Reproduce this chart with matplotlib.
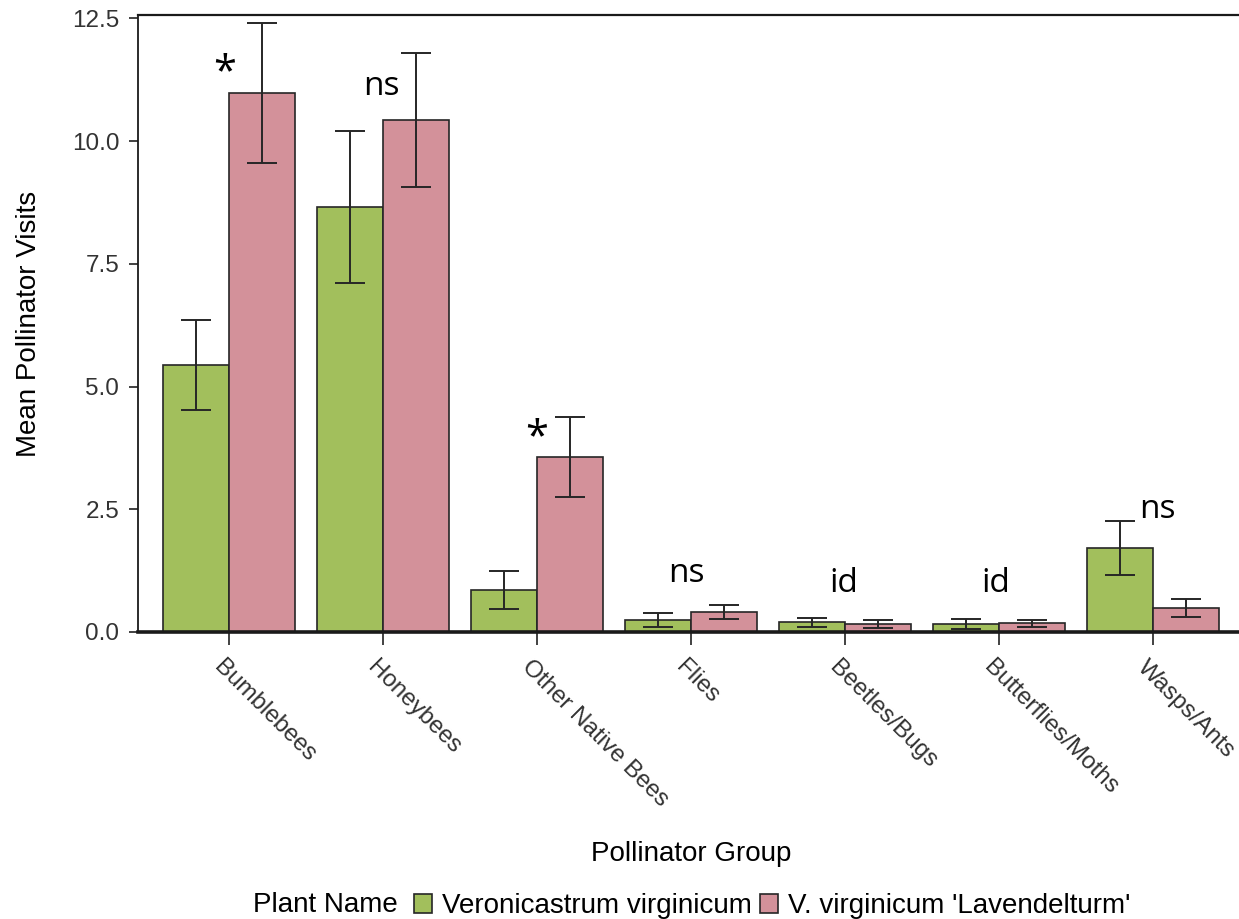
import numpy as np
import matplotlib.pyplot as plt
from matplotlib.patches import Patch
from matplotlib.transforms import ScaledTranslation

# Pollinator groups and mean visits (+/- SE) for the two plants
groups = ["Bumblebees", "Honeybees", "Other Native Bees", "Flies",
          "Beetles/Bugs", "Butterflies/Moths", "Wasps/Ants"]
native_mean = [5.44, 8.66, 0.86, 0.24, 0.20, 0.16, 1.72]
native_se = [0.92, 1.54, 0.39, 0.14, 0.09, 0.10, 0.55]
cultivar_mean = [10.98, 10.43, 3.56, 0.41, 0.17, 0.18, 0.49]
cultivar_se = [1.43, 1.37, 0.81, 0.15, 0.08, 0.07, 0.18]

# significance marks above each group
sig_labels = ["*", "ns", "*", "ns", "id", "id", "ns"]
sig_y = [11.15, 10.94, 3.72, 1.02, 0.81, 0.81, 2.32]
sig_dx = [-0.03, -0.01, 0.0, -0.03, -0.01, -0.02, 0.03]

plant_names = ["Veronicastrum virginicum", "V. virginicum 'Lavendelturm'"]
green = "#a2bf5c"
pink = "#d3919a"
edge = "#262626"

plt.rcParams['font.family'] = ['Liberation Sans', 'DejaVu Sans']

fig = plt.figure(figsize=(12.39, 9.19), dpi=100)
ax = fig.add_axes([0.1114, 0.3123, 0.8926, 0.6714])

x = np.arange(len(groups))
w = 0.43
ax.bar(x - w / 2, native_mean, w, color=green, edgecolor=edge, linewidth=1.2, zorder=2)
ax.bar(x + w / 2, cultivar_mean, w, color=pink, edgecolor=edge, linewidth=1.2, zorder=2)
ax.errorbar(x - w / 2, native_mean, yerr=native_se, fmt="none", ecolor=edge,
            elinewidth=1.4, capsize=11, capthick=1.4, zorder=3)
ax.errorbar(x + w / 2, cultivar_mean, yerr=cultivar_se, fmt="none", ecolor=edge,
            elinewidth=1.4, capsize=11, capthick=1.4, zorder=3)

for i, lab in enumerate(sig_labels):
    ax.text(x[i] + sig_dx[i], sig_y[i], lab, ha="center", va="baseline",
            fontsize=30 if lab == "*" else 24, family=["Open Sans", "DejaVu Sans"],
            color="black", zorder=4)

ax.set_xlim(-0.591, 6.59)
ax.set_ylim(0, 12.57)
ax.set_yticks([0, 2.5, 5.0, 7.5, 10.0, 12.5])
ax.set_yticklabels(["0.0", "2.5", "5.0", "7.5", "10.0", "12.5"])
ax.set_xticks(x)
ax.set_xticklabels(groups, rotation=-45, rotation_mode="anchor", ha="left", va="center")

ax.tick_params(axis="y", labelsize=17.5, length=6.5, width=1.3, color="#333333",
               labelcolor="#333333", pad=7)
ax.tick_params(axis="x", labelsize=17.4, length=9, width=1.3, color="#333333",
               labelcolor="#333333", pad=14)
shift = ScaledTranslation(-12 / 100, 0, fig.dpi_scale_trans)
for lbl in ax.get_xticklabels():
    lbl.set_transform(lbl.get_transform() + shift)

ax.spines["right"].set_visible(False)
ax.spines["top"].set_linewidth(1.6)
ax.spines["left"].set_linewidth(1.3)
ax.spines["bottom"].set_linewidth(2.6)
for s in ax.spines.values():
    s.set_color("#1a1a1a")

ax.set_ylabel("Mean Pollinator Visits", fontsize=20)
ax.yaxis.set_label_coords(-0.087, 0.5)
ax.set_xlabel("Pollinator Group", fontsize=20)
ax.xaxis.set_label_coords(0.5, -0.338)

handles = [Patch(facecolor=green, edgecolor=edge, linewidth=1.2),
           Patch(facecolor=pink, edgecolor=edge, linewidth=1.2)]
fig.text(0.204, 0.008, "Plant Name", fontsize=20, va="baseline", ha="left")
fig.legend(handles, plant_names, loc="lower left", bbox_to_anchor=(0.325, -0.0126),
           ncol=2, frameon=False, fontsize=20, handlelength=0.65, handleheight=0.65,
           handletextpad=0.35, columnspacing=0.3, borderaxespad=0)

fig.savefig("out.png", dpi=100)
